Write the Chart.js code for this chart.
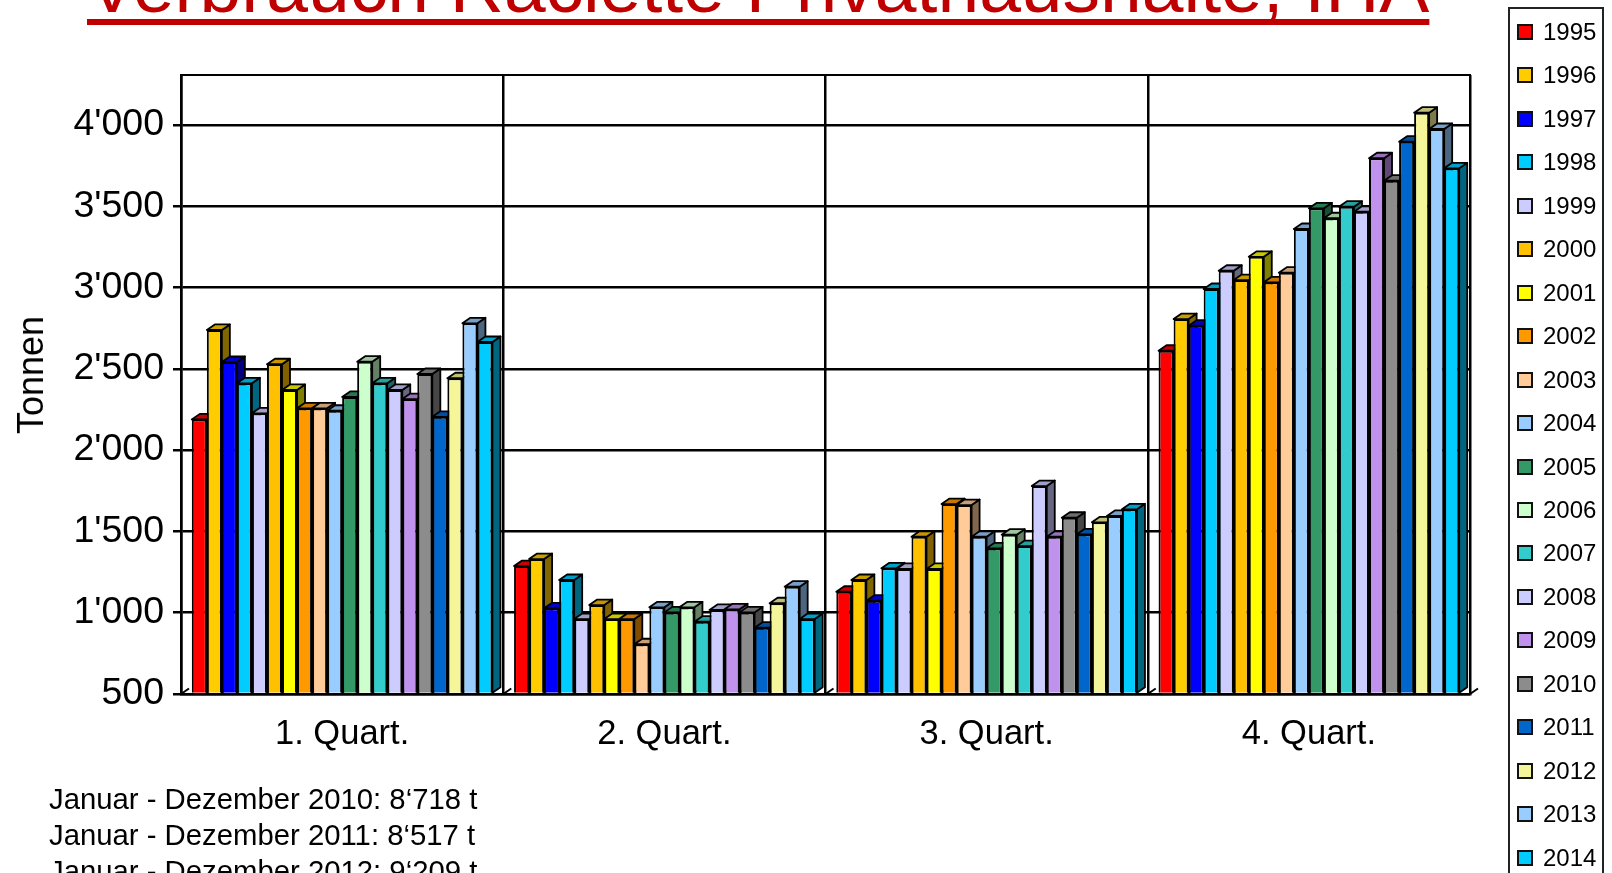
<!DOCTYPE html>
<html>
<head>
<meta charset="utf-8">
<script src="https://cdn.jsdelivr.net/npm/chart.js@4"></script>
<style>
  html, body { margin: 0; padding: 0; width: 1612px; height: 873px; overflow: hidden; background: #fff; font-family: "Liberation Sans", Arial, sans-serif; }
  #chart { position: absolute; left: 0; top: 0; }
  #title { position: absolute; left: 87px; top: -54px; line-height: 80px; font-size: 75px; color: #c00000; white-space: nowrap;
           text-decoration: underline; text-decoration-thickness: 6px; text-underline-offset: 7px; text-decoration-skip-ink: none; }
  #notes { position: absolute; left: 49px; top: 781px; font-size: 29.3px; line-height: 36px; color: #000; white-space: nowrap; }
  #ytitle { position: absolute; left: 31px; top: 375px; font-size: 36px; color: #000; white-space: nowrap; transform: translate(-50%, -50%) rotate(-90deg); }
  #legend { position: absolute; left: 1508px; top: 7px; width: 92px; height: 900px; border: 2px solid #222; box-sizing: content-box; }
  .item { position: absolute; left: 0; height: 30px; font-size: 24px; line-height: 30px; color: #000; }
  .item i { position: absolute; left: 7px; top: 7px; width: 12px; height: 12px; border: 2px solid #111; }
  .item span { position: absolute; left: 33px; }
</style>
</head>
<body>
<canvas id="chart" width="1612" height="873"></canvas>
<div id="title">Verbrauch Raclette Privathaushalte, IHA</div>
<div id="ytitle">Tonnen</div>
<div id="legend"></div>
<div id="notes">Januar - Dezember 2010: 8‘718 t<br>Januar - Dezember 2011: 8‘517 t<br>Januar - Dezember 2012: 9‘209 t</div>
<script>
const quarters = ['1. Quart.', '2. Quart.', '3. Quart.', '4. Quart.'];
const years = ['1995','1996','1997','1998','1999','2000','2001','2002','2003','2004','2005','2006','2007','2008','2009','2010','2011','2012','2013','2014'];
const colors = ['#ff0000','#ffcc00','#0000ff','#00ccff','#ccccff','#ffc000','#ffff00','#ff9900','#ffcc99','#99ccff','#339966','#ccffcc','#33cccc','#ccccff','#c191ee','#8c8c8c','#0066cc','#f5f59a','#99ccff','#00ccff'];
const yTicks = [500, 1000, 1500, 2000, 2500, 3000, 3500, 4000];

// tonnes per quarter, one entry per year
const q1 = [2189,2739,2542,2411,2226,2528,2370,2257,2257,2242,2327,2544,2411,2370,2314,2468,2205,2442,2780,2665];
const q2 = [1287,1330,1027,1201,961,1047,961,961,806,1033,1002,1033,945,1017,1021,1002,908,1058,1160,961];
const q3 = [1129,1201,1074,1273,1269,1467,1269,1668,1662,1467,1396,1480,1410,1779,1467,1584,1482,1556,1595,1636];
const q4 = [2611,2806,2765,2991,3103,3046,3189,3032,3091,3360,3487,3426,3497,3466,3795,3657,3897,4075,3975,3733];

const DEPTH_X = 8;
const DEPTH_Y = 5.5;

function shade(hex, f) {
    const n = parseInt(hex.slice(1), 16);
    const r = Math.round((n >> 16 & 255) * f);
    const g = Math.round((n >> 8 & 255) * f);
    const b = Math.round((n & 255) * f);
    return `rgb(${r},${g},${b})`;
}

function face(ctx, pts, fill) {
    ctx.beginPath();
    pts.forEach((p, i) => i ? ctx.lineTo(p[0], p[1]) : ctx.moveTo(p[0], p[1]));
    ctx.closePath();
    ctx.fillStyle = fill;
    ctx.fill();
    ctx.stroke();
}

// frame of the wall, floor marks, then the bars left to right so each one
// covers the side of the one before it (chart.js would paint 2014 first)
const bar3d = {
    id: 'bar3d',
    beforeDatasetsDraw(chart) {
        const ctx = chart.ctx;
        const a = chart.chartArea;
        ctx.save();
        ctx.strokeStyle = '#000';
        ctx.lineWidth = 2;
        ctx.strokeRect(a.left, a.top, a.right - a.left, a.bottom - a.top);
        const band = (a.right - a.left) / quarters.length;
        for (let i = 0; i <= quarters.length; i++) {
            const x = a.left + band * i;
            ctx.beginPath();
            ctx.moveTo(x, a.bottom);
            ctx.lineTo(x + DEPTH_X, a.bottom - DEPTH_Y);
            ctx.stroke();
        }
        ctx.lineWidth = 1.8;
        ctx.lineJoin = 'round';
        for (let i = 0; i < 4; i++) {
            years.forEach((y, d) => {
                const bar = chart.getDatasetMeta(d).data[i];
                const l = bar.x - bar.width / 2;
                const r = bar.x + bar.width / 2;
                const t = bar.y;
                const b = bar.base;
                face(ctx, [[r, t], [r + DEPTH_X, t - DEPTH_Y], [r + DEPTH_X, b - DEPTH_Y], [r, b]], shade(colors[d], 0.5));
                face(ctx, [[l, t], [l + DEPTH_X, t - DEPTH_Y], [r + DEPTH_X, t - DEPTH_Y], [r, t]], shade(colors[d], 0.78));
                bar.draw(ctx);
            });
        }
        ctx.restore();
    },
    beforeDatasetDraw() {
        return false;
    }
};

const datasets = years.map((y, i) => ({
    label: y,
    data: [q1[i], q2[i], q3[i], q4[i]],
    backgroundColor: colors[i],
    borderColor: '#000',
    borderWidth: 2,
    base: 500
}));

new Chart(document.getElementById('chart'), {
    type: 'bar',
    data: { labels: quarters, datasets: datasets },
    plugins: [bar3d],
    options: {
        responsive: false,
        animation: false,
        layout: { padding: { top: 75, right: 142, left: 0, bottom: 0 } },
        plugins: { legend: { display: false }, title: { display: false }, tooltip: { enabled: false } },
        datasets: { bar: { categoryPercentage: 0.933, barPercentage: 1 } },
        scales: {
            x: {
                afterFit(scale) { scale.height = 179; },
                grid: { color: '#000', lineWidth: 2.5, drawTicks: false },
                border: { color: '#000', width: 2.5 },
                ticks: { color: '#000', padding: 20, font: { family: 'Liberation Sans', size: 34.5 }, maxRotation: 0 }
            },
            y: {
                min: 500,
                max: 4307,
                afterFit(scale) { scale.width = 181; },
                afterBuildTicks(scale) { scale.ticks = yTicks.map(v => ({ value: v })); },
                grid: { color: '#000', lineWidth: 2.5, tickLength: 8, tickColor: '#000' },
                border: { color: '#000', width: 2.5 },
                ticks: {
                    color: '#000',
                    padding: 9,
                    font: { family: 'Liberation Sans', size: 37.5 },
                    callback: v => String(v).replace(/(\d)(\d{3})$/, "$1'$2")
                }
            }
        }
    }
});

// legend box runs past the bottom edge of the picture
const legend = document.getElementById('legend');
years.forEach((y, i) => {
    const item = document.createElement('div');
    item.className = 'item';
    item.style.top = (8 + i * 43.45) + 'px';
    item.innerHTML = `<i style="background:${colors[i]}"></i><span>${y}</span>`;
    legend.appendChild(item);
});
</script>
</body>
</html>
